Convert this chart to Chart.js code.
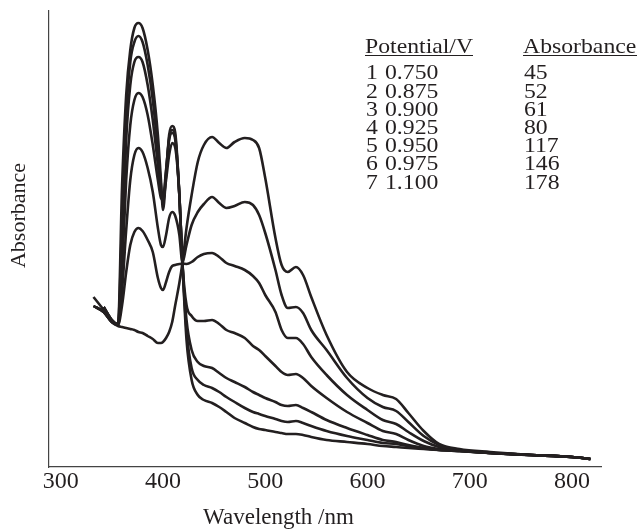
<!DOCTYPE html>
<html>
<head>
<meta charset="utf-8">
<script src="https://cdn.jsdelivr.net/npm/chart.js@4.4.1/dist/chart.umd.min.js"></script>
<style>
  html, body { margin: 0; padding: 0; background: #fff; }
  #wrap { width: 640px; height: 529px; }
</style>
</head>
<body>
<div id="wrap"><canvas id="spectraChart" width="640" height="529"></canvas></div>
<script>
// wavelength grid (nm), shared by every trace
const wavelengths = [332, 342, 350, 356, 360, 364, 368, 372, 376, 380, 385, 390, 395, 398, 400, 403, 406, 409, 412, 416, 419,
  423, 428, 434, 440, 448, 455, 462, 470, 480, 488, 494, 500, 510, 516, 522, 530, 537, 545, 560, 580, 600, 615, 628, 640,
  655, 670, 690, 720, 760, 800, 818];

// absorbance (arbitrary units), one array per potential
const curve1 = [null, 1.60, 1.47, 1.43, 2.82, 3.72, 4.17, 4.39, 4.44, 4.39, 4.17, 3.82, 3.32, 2.87, 2.57, 2.92, 3.32, 3.41, 3.34, 2.72, 2.04,
  1.27, 0.87, 0.72, 0.67, 0.64, 0.60, 0.55, 0.49, 0.44, 0.40, 0.38, 0.37, 0.35, 0.34, 0.33, 0.33, 0.32, 0.30, 0.27, 0.25, 0.23, 0.21, 0.20, 0.19,
  0.18, 0.17, 0.16, 0.14, 0.12, 0.10, 0.08];
const curve2 = [null, 1.60, 1.47, 1.43, 2.47, 3.52, 4.05, 4.25, 4.31, 4.25, 4.02, 3.67, 3.17, 2.82, 2.63, 2.95, 3.29, 3.37, 3.30, 2.72, 2.04,
  1.37, 0.99, 0.87, 0.82, 0.79, 0.75, 0.70, 0.65, 0.59, 0.55, 0.53, 0.51, 0.48, 0.46, 0.45, 0.46, 0.44, 0.41, 0.36, 0.31, 0.27, 0.24, 0.23, 0.21,
  0.19, 0.17, 0.16, 0.14, 0.12, 0.10, 0.08];
const curve3 = [null, 1.60, 1.47, 1.43, 2.17, 3.27, 3.82, 4.05, 4.10, 4.05, 3.82, 3.47, 3.02, 2.75, 2.69, 2.97, 3.27, 3.34, 3.27, 2.72, 2.04,
  1.47, 1.17, 1.05, 1.01, 0.99, 0.94, 0.89, 0.85, 0.80, 0.75, 0.72, 0.69, 0.65, 0.62, 0.61, 0.62, 0.59, 0.55, 0.47, 0.39, 0.32, 0.27, 0.25, 0.22,
  0.19, 0.17, 0.16, 0.14, 0.12, 0.10, 0.08];
const curve4 = [1.61, 1.55, 1.45, 1.42, 1.97, 2.87, 3.42, 3.67, 3.74, 3.70, 3.52, 3.22, 2.87, 2.69, 2.67, 2.87, 3.12, 3.24, 3.19, 2.72, 2.04,
  1.62, 1.51, 1.46, 1.46, 1.47, 1.43, 1.37, 1.34, 1.29, 1.21, 1.17, 1.11, 1.01, 0.95, 0.92, 0.93, 0.89, 0.81, 0.69, 0.55, 0.44, 0.36, 0.33, 0.27,
  0.21, 0.18, 0.16, 0.14, 0.12, 0.10, 0.08];
const curve5 = [1.61, 1.55, 1.45, 1.42, 1.77, 2.37, 2.87, 3.12, 3.19, 3.15, 2.99, 2.75, 2.39, 2.22, 2.20, 2.32, 2.49, 2.55, 2.51, 2.32, 2.04,
  2.03, 2.05, 2.10, 2.13, 2.14, 2.10, 2.04, 2.01, 1.97, 1.91, 1.84, 1.72, 1.55, 1.37, 1.29, 1.29, 1.23, 1.10, 0.92, 0.72, 0.57, 0.47, 0.43, 0.35,
  0.26, 0.20, 0.17, 0.14, 0.12, 0.10, 0.08];
const curve6 = [1.61, 1.55, 1.45, 1.42, 1.62, 1.95, 2.22, 2.35, 2.39, 2.36, 2.27, 2.15, 1.89, 1.79, 1.77, 1.85, 1.95, 2.01, 2.02, 2.03, 2.04,
  2.22, 2.42, 2.55, 2.63, 2.70, 2.64, 2.59, 2.61, 2.65, 2.62, 2.52, 2.34, 1.97, 1.72, 1.59, 1.60, 1.54, 1.37, 1.17, 0.89, 0.69, 0.60, 0.56, 0.45,
  0.31, 0.22, 0.17, 0.14, 0.12, 0.10, 0.08];
const curve7 = [1.70, 1.57, 1.45, 1.41, 1.40, 1.39, 1.38, 1.37, 1.35, 1.34, 1.31, 1.28, 1.24, 1.24, 1.25, 1.29, 1.35, 1.45, 1.62, 1.84, 2.04,
  2.39, 2.72, 3.05, 3.22, 3.30, 3.24, 3.19, 3.25, 3.29, 3.27, 3.19, 2.89, 2.29, 2.02, 1.95, 2.00, 1.92, 1.70, 1.32, 0.95, 0.79, 0.72, 0.68, 0.54,
  0.36, 0.23, 0.18, 0.15, 0.12, 0.10, 0.08];

// table in the top right corner
const rowNumbers = ["1", "2", "3", "4", "5", "6", "7"];
const potentials = ["0.750", "0.875", "0.900", "0.925", "0.950", "0.975", "1.100"];
const absorbances = ["45", "52", "61", "80", "117", "146", "178"];

const xTicks = [300, 400, 500, 600, 700, 800];

const INK = "#231f20";
const SERIF = '"Liberation Serif", "Times New Roman", serif';
const curves = [curve1, curve2, curve3, curve4, curve5, curve6, curve7];

// stretched text, the figure's type is a bit wider than normal
function wideText(ctx, text, x, y, sx) {
  ctx.save();
  ctx.translate(x, y);
  ctx.scale(sx, 1);
  ctx.fillText(text, 0, 0);
  ctx.restore();
}

const textPlugin = {
  id: "figureText",
  afterDraw(chart) {
    const ctx = chart.ctx;
    ctx.save();
    ctx.fillStyle = INK;
    ctx.strokeStyle = INK;
    ctx.textBaseline = "alphabetic";
    ctx.textAlign = "left";

    // table header + underline
    ctx.font = "21px " + SERIF;
    wideText(ctx, "Potential/V", 365, 53, 1.13);
    wideText(ctx, "Absorbance", 523, 53, 1.13);
    ctx.lineWidth = 1;
    ctx.beginPath();
    ctx.moveTo(365, 55.5); ctx.lineTo(473, 55.5);
    ctx.moveTo(523, 55.5); ctx.lineTo(637, 55.5);
    ctx.stroke();

    rowNumbers.forEach((n, i) => {
      const y = 79.3 + i * 18.2;
      wideText(ctx, n, 366, y, 1.13);
      wideText(ctx, potentials[i], 385, y, 1.13);
      wideText(ctx, absorbances[i], 524, y, 1.13);
    });

    // x title
    ctx.font = "23px " + SERIF;
    ctx.textAlign = "center";
    ctx.fillText("Wavelength /nm", 278.5, 524);

    // y title
    ctx.font = "22px " + SERIF;
    ctx.translate(25, 215.5);
    ctx.rotate(-Math.PI / 2);
    ctx.fillText("Absorbance", 0, 0);
    ctx.restore();
  }
};

const ctx = document.getElementById("spectraChart").getContext("2d");
new Chart(ctx, {
  type: "line",
  data: {
    datasets: curves.map((c, i) => ({
      label: potentials[i] + " V",
      data: wavelengths.map((w, j) => ({ x: w, y: c[j] })),
      borderColor: INK,
      borderWidth: 2.6,
      pointRadius: 0,
      fill: false,
      cubicInterpolationMode: "monotone",
      spanGaps: false
    }))
  },
  options: {
    responsive: false,
    animation: false,
    layout: { padding: { top: 11, right: 39, left: 0, bottom: 0 } },
    scales: {
      x: {
        type: "linear",
        min: 288.5,
        max: 828.4,
        afterBuildTicks: (scale) => { scale.ticks = xTicks.map((v) => ({ value: v })); },
        afterFit: (scale) => { scale.height = 62; },
        grid: { display: false, drawTicks: false },
        border: { display: true, color: "#444", width: 1.2 },
        ticks: {
          padding: 0,
          color: INK,
          font: { family: SERIF, size: 24 }
        }
      },
      y: {
        min: 0,
        max: 4.56,
        afterFit: (scale) => { scale.width = 49; },
        grid: { display: false, drawTicks: false },
        border: { display: true, color: "#444", width: 1.2 },
        ticks: { display: false }
      }
    },
    plugins: {
      legend: { display: false },
      tooltip: { enabled: false }
    }
  },
  plugins: [textPlugin]
});
</script>
</body>
</html>
